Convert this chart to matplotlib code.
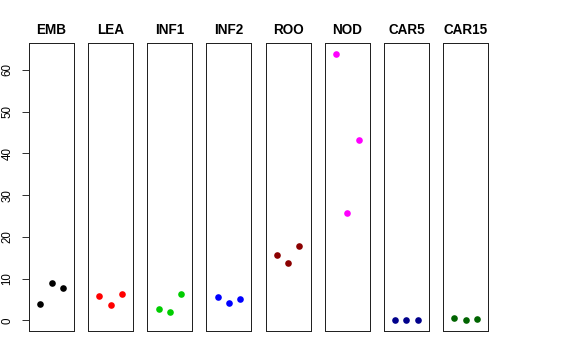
import matplotlib
matplotlib.use("Agg")
import matplotlib.pyplot as plt

plt.rcParams['font.family'] = ['Liberation Sans', 'DejaVu Sans']

tissues = ["EMB", "LEA", "INF1", "INF2", "ROO", "NOD", "CAR5", "CAR15"]
colors = ["black", "red", "#00CD00", "blue", "#8B0000", "magenta", "#00008B", "#006400"]
rep_x = [1, 2, 3]
EMB = [3.9, 9.0, 7.7]
LEA = [5.8, 3.6, 6.3]
INF1 = [2.6, 2.1, 6.3]
INF2 = [5.6, 4.2, 5.0]
ROO = [15.7, 13.8, 17.9]
NOD = [63.9, 25.7, 43.1]
CAR5 = [0.15, 0.0, 0.15]
CAR15 = [0.45, 0.1, 0.3]
values = [EMB, LEA, INF1, INF2, ROO, NOD, CAR5, CAR15]
yticks = [0, 10, 20, 30, 40, 50, 60]

W, H = 576, 360
fig = plt.figure(figsize=(W / 72, H / 72), dpi=72)

ymin = min(min(v) for v in values)
ymax = max(max(v) for v in values)
ext = 0.04 * (ymax - ymin)

for i, (name, col, vals) in enumerate(zip(tissues, colors, values)):
    left = 29 + i * 59.15
    ax = fig.add_axes([left / W, (H - 331) / H, 45 / W, 288 / H])
    ax.scatter(rep_x, vals, s=44, color=col, zorder=3, linewidths=0)
    ax.set_xlim(0, 4)
    ax.set_ylim(ymin - ext, ymax + ext)
    ax.set_xticks([])
    for sp in ax.spines.values():
        sp.set_linewidth(1.0)
        sp.set_color("#222222")
    ax.set_title(name, fontsize=13.5, fontweight="bold", pad=9)
    if i == 0:
        ax.set_yticks(yticks)
        ax.set_yticklabels([str(t) for t in yticks], rotation=90, va="center")
        ax.tick_params(axis="y", length=7.5, width=0.8, pad=8, labelsize=11.5)
    else:
        ax.set_yticks([])

fig.savefig("out.png", dpi=72)
